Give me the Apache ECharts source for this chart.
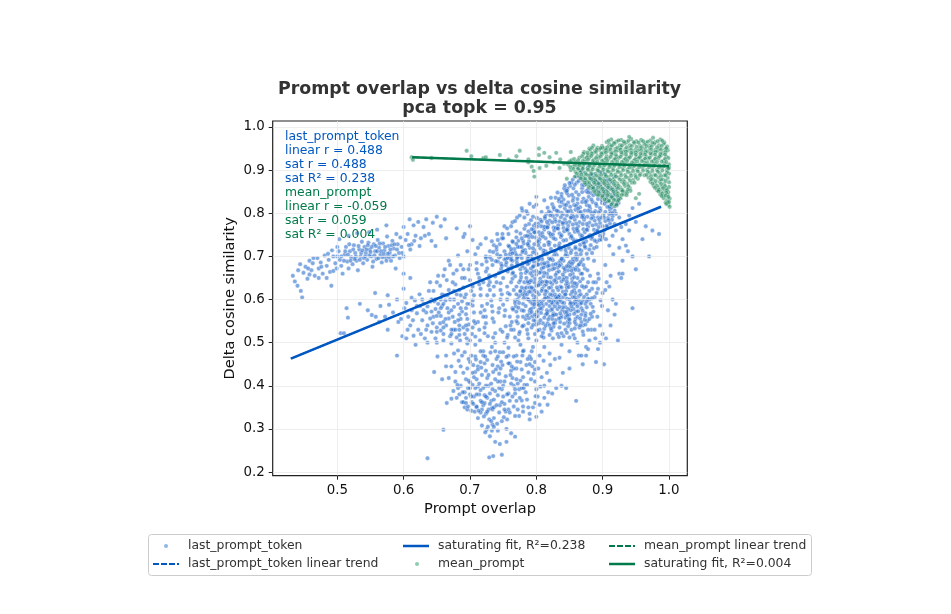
<!DOCTYPE html>
<html>
<head>
<meta charset="utf-8">
<style>html,body{margin:0;padding:0;background:#fff}#chart{width:951px;height:614px}</style>
<script src="https://cdn.jsdelivr.net/npm/echarts@6/dist/echarts.min.js"></script>
</head>
<body>
<div id="chart"></div>
<script>
// Tick values for both axes
const xTicks = [0.5, 0.6, 0.7, 0.8, 0.9, 1.0];
const yTicks = [0.2, 0.3, 0.4, 0.5, 0.6, 0.7, 0.8, 0.9, 1.0];

// Point clouds as flat x,y pairs in thousandths
const lastLeftBand = [
433,655,436,642,440,632,441,668,445,620,447,605,444,682,449,662,452,676,455,648,458,690,461,668,463,684,466,655,470,696,472,672,475,686,478,660,481,702,484,678,
487,692,489,664,491,632,494,700,497,684,499,672,502,712,504,692,506,678,508,660,511,704,513,722,515,688,517,672,519,712,521,698,523,682,525,726,527,708,529,690,
531,668,533,716,535,700,537,734,539,684,541,722,543,708,545,692,547,732,549,716,551,700,553,676,555,728,557,712,559,694,561,738,563,720,565,704,567,686,569,730,
571,714,573,698,575,746,577,724,579,708,581,690,583,736,585,718,587,702,589,752,591,728,593,708,595,744,597,722,600,768,603,738,606,752,609,786,612,728,615,772,
618,748,622,780,626,742,630,768,634,786,638,752,644,778,650,792,656,770,662,786,664,742,600,700,610,716,648,724,503,740,517,748,530,754,548,756,560,762,574,772,
506,700,512,712,516,704,520,690,524,716,528,700,532,724,536,708,540,696,544,716,548,702,552,722,556,702,560,712,564,730,568,698,572,722,576,706,580,716,584,700,
534,692,542,700,550,710,558,724,566,712,574,690,582,726,590,716,510,690,518,728,526,694,538,714,546,726,554,688,562,696,570,706,578,698,586,728,594,696,598,708,
456,672,464,696,476,676,486,706,494,666,500,700,458,658,472,650,484,650,492,714,500,722,608,726,616,736,624,724,632,748,642,736,588,672,600,660,610,650
];
const lastMidLeft = [
514,580,516,558,505,522,510,522,534,590,546,575,552,564,558,560,563,548,565,585,572,560,576,530,578,588,584,570,590,600,592,548,596,555,598,515,601,580,604,592,
607,560,610,540,612,575,615,516,617,598,622,530,625,585,628,552,632,510,634,570,636,540,640,595,642,525,645,560,648,578,650,500,655,545,658,585,660,520,664,470,
668,556,672,498,675,530,680,512,684,540,688,572,651,468,646,432,642,600,604,510,618,495,624,612,576,610,600,625,557,615,638,620,662,610,590,470,
606,530,614,552,620,568,630,590,634,530,644,545,650,562,656,528,664,540,670,515,678,530,686,555,692,520,700,505,626,520,636,500,648,510,660,505,
612,604,628,600,636,584,652,590,663,598,676,583,688,596,694,566,704,586,668,570,682,552,698,542,712,548,724,560,642,572,656,562,
672,530,684,518,696,498,708,514,722,522,735,512,746,530,757,518,768,512,660,548,650,535,640,556,630,575,620,585
];
const lastCenter = [
640,640,645,620,648,600,652,655,655,632,658,612,660,590,662,670,665,645,668,622,670,600,672,575,675,660,678,635,680,612,682,590,684,565,686,680,688,650,690,628,
692,605,694,580,696,555,698,670,700,645,702,620,704,598,706,570,708,545,710,685,712,660,714,635,716,610,718,585,720,560,722,535,724,700,726,672,728,648,730,622,
732,598,734,572,736,548,738,522,740,715,742,688,744,662,746,638,748,612,750,588,752,562,754,538,756,512,758,725,760,698,762,672,764,648,766,622,768,598,770,572,
772,545,774,520,776,495,653,570,663,555,677,548,690,535,703,520,715,505,727,515,738,500,749,525,761,540,773,505,650,525,660,535,672,520,685,505,695,510,708,495,
720,480,733,490,745,478,758,488,770,470,781,482,790,468,798,455,668,690,682,702,696,712,708,705,716,728,724,742,733,735,741,752,748,742,752,770,700,590,692,650,
646,596,656,580,666,610,674,640,684,622,694,612,704,630,714,650,724,665,734,680,744,698,754,680,764,660,774,640,776,618,772,600,764,580,756,600,746,600,736,610,
726,590,716,570,706,550,696,530,686,580,676,600,666,580,656,600,650,640,660,655,670,680,680,668,690,670,700,680,710,670,720,640,730,640,740,640,750,650,756,630,
744,580,734,556,724,545,714,530,704,535,694,540,684,530,674,560,726,610,736,630,746,622,716,625,706,610,696,590,686,610,676,620,760,560,770,550,766,530,752,500,
738,654,747,671,729,656,718,681,733,692,752,693,762,711,741,705,728,633,757,615,743,570,733,585,722,575,769,584,753,575,762,530
];
const lastBottom = [
686,445,690,430,694,415,697,395,700,380,703,362,705,448,708,432,710,415,712,398,714,380,716,365,718,345,720,470,722,452,724,435,726,418,728,400,730,382,732,365,
734,345,736,325,738,480,740,462,742,445,744,428,746,410,748,392,750,375,752,358,754,340,756,322,758,470,760,452,762,435,764,418,766,400,768,382,770,365,772,345,
774,330,776,455,778,438,780,420,782,402,784,385,786,368,788,350,790,335,792,462,794,445,796,428,798,410,800,392,802,375,805,356,808,340,812,400,816,430,818,385,
820,412,678,410,682,395,684,380,688,362,692,350,696,345,702,342,707,340,716,338,724,335,729,322,734,310,725,298,730,283,736,305,742,296,748,318,755,300,762,290,
768,282,755,270,745,265,738,270,748,240,729,234,735,237,636,232,723,292,718,308,727,305,733,296,712,325,720,355,706,375,698,412,704,402,722,378,738,388,752,410,
766,352,778,366,770,440,785,448,798,360,830,395,838,400,840,430,860,365,850,440,845,395,870,450,875,470,660,298,665,360,672,370,680,372,690,362,710,350,733,348,
745,355,758,345,768,330,780,340,790,322,800,328,795,350,735,432,749,448,724,400,728,425,742,410,761,425,776,412,712,445,698,462,688,470,676,475,672,445,682,482,
694,372,700,395,706,420,712,438,716,455,720,395,726,372,730,358,734,392,738,415,742,378,746,440,750,400,754,422,758,382,762,405,766,440,770,415,774,392,718,425,
710,380,704,430,696,440,700,455,708,468,716,480,726,460,734,448,742,468,750,478,758,452,766,468,702,470,714,405,722,360,728,345,736,350,744,338,752,345,760,365,
740,355,732,405,724,375,716,390,708,395,700,408,692,385,686,400,694,360,702,375,748,362,756,380,764,375,772,405,778,395,710,352,718,362,726,340,736,368,744,395,
709,461,717,442,723,468,731,477,739,438,747,456,755,467,763,445,771,456,779,470,787,462,793,480,803,440,811,458,821,448,828,462,
788,431,781,395,775,372,768,392,760,338,751,327,741,312,732,318,721,329,713,342,705,358,697,352,689,385,681,402,675,388,668,418,
780,352,786,402,792,415,799,376,806,398,812,372,817,356,824,382,808,420,798,438,790,450,664,445,658,415,678,432,683,458,692,478
];
const lastCore = [
775,525,781,540,787,520,793,535,799,550,805,530,811,512,817,545,823,528,829,552,835,535,841,515,847,548,853,530,859,555,865,535,871,518,877,550,883,530,889,510,
772,560,778,575,784,555,790,568,796,582,802,562,808,578,814,565,820,585,826,568,832,578,838,562,844,582,850,565,856,578,862,560,868,580,874,568,880,555,886,572,892,560,
768,592,774,608,780,590,786,602,792,618,798,596,804,612,810,598,816,618,822,600,828,612,834,596,840,618,846,602,852,612,858,595,864,608,870,598,876,612,882,590,888,606,
770,630,776,645,782,625,788,638,794,655,800,632,806,648,812,632,818,652,824,636,830,648,836,630,842,652,848,636,854,648,860,630,866,642,872,628,878,640,884,625,890,640,
765,662,771,678,777,660,783,672,789,685,795,665,801,680,807,664,813,680,819,668,825,680,831,662,837,682,843,665,849,678,855,660,861,675,867,660,873,672,
779,612,785,628,791,595,797,640,803,575,809,625,815,590,821,640,827,565,833,622,839,575,845,635,851,590,857,622,795,610,805,640,815,605,825,590,835,650,845,620,
790,575,800,560,810,545,820,560,830,595,840,605,850,545,860,590,870,540,880,600,785,650,795,625,805,595,815,635,825,620,835,610,845,565,855,605,865,620,875,630,
800,505,812,490,825,510,838,495,850,512,862,500,875,490,788,510,795,490,780,480,805,470,820,475,835,465,850,480,864,470,878,485,890,455,902,450,893,485,900,520,
896,540,905,510,912,540,918,565,923,505,945,580,920,590,908,575,900,615,910,630,915,600,893,625,899,585,906,640,912,655,925,660,930,690,893,660,904,680,916,705,
880,505,868,470,888,530,896,500,
788,600,794,590,802,590,810,585,818,605,826,598,834,606,842,592,850,600,858,606,866,590,874,590,782,640,790,628,798,648,806,636,814,642,822,628,830,640,838,642,846,628,854,640,862,650,870,648,
776,670,784,662,792,672,800,658,808,672,816,660,824,670,832,674,840,658,848,668,856,672,864,668,780,560,788,545,796,552,804,545,812,558,820,540,828,545,836,568,844,558,852,575,860,572,868,565,876,582,
784,585,792,578,800,600,808,620,816,575,824,610,832,590,840,582,848,578,856,590,864,598,872,606,880,620,886,640,776,620,782,610,790,640,798,620,806,580,814,620,822,575,830,565,838,628,846,650,
786,530,798,520,808,515,820,518,832,520,844,530,856,518,868,548,878,530,884,560,800,542,812,532,824,555,836,548,848,538,860,542,
793,571,799,606,803,633,811,654,817,571,823,593,827,644,833,607,837,558,843,611,849,629,853,584,859,615,863,573,869,631,873,553,
781,603,787,642,791,661,797,589,801,617,807,569,813,603,819,627,825,563,829,606,835,583,841,646,847,563,851,657,857,567,861,636,
789,557,795,541,802,528,814,539,826,537,838,522,849,556,858,533,866,556,874,542,882,567,779,538,773,581,770,612,777,652,783,617,
809,641,821,612,831,628,843,571,855,631,867,612,878,602,885,583,891,615,897,598,904,622,894,648,881,655,869,660,857,652,
805,662,817,677,829,657,841,674,853,667,865,682,877,668,887,690,762,640,757,665,768,654,760,612,765,577,763,548,
786,612,793,628,801,571,808,591,816,641,824,578,831,603,839,593,846,571,854,618,862,584,870,574,792,644,800,666,812,662,822,651,834,665,846,642,858,638,
794,561,804,587,813,612,819,597,828,584,836,599,844,612,852,592,860,600,868,592,876,596,884,603,789,618,781,574,778,628,774,592,786,666,796,678,808,683,
818,554,826,545,834,556,842,544,850,553,858,548,866,540,874,562,810,523,822,533,834,513,846,523,858,510,870,526,798,565,806,552,816,567,796,600,786,563
];
const lastDiagonal = [
866,883,873,877,881,889,887,874,895,882,903,891,909,876,917,885,899,870,877,869,884,862,861,871,869,858,892,866,906,864,913,871,921,861,856,858,
851,863,844,852,860,849,875,851,882,847,889,855,897,846,905,852,912,843,919,853,838,845,849,841,856,836,864,843,871,834,879,838,893,833,901,839,908,829,916,836,923,830,
829,836,834,828,841,832,848,825,855,829,862,823,869,826,876,819,885,826,891,817,899,824,907,815,914,822,921,818,824,821,817,813,827,809,836,816,843,811,851,815,859,808,866,814,873,806,881,811,889,805,896,812,904,803,911,808,918,806,
808,803,815,798,822,801,831,796,838,801,846,795,854,799,861,793,868,798,877,792,884,797,893,790,901,796,908,789,915,793,801,789,795,792,806,785,813,788,820,783,828,787,835,781,843,786,850,780,858,785,865,779,872,785,880,778,888,783,896,777,904,782,911,776,
789,775,796,771,803,776,811,769,818,774,826,767,833,772,841,766,848,771,856,764,863,770,871,763,878,769,887,762,894,768,902,760,782,764,788,758,796,762,804,756,812,762,819,755,827,760,835,753,842,758,850,752,858,757,866,750,873,756,881,749,889,755,896,748,
776,753,770,744,783,747,791,751,799,744,806,749,814,742,822,747,829,740,837,745,845,738,852,744,860,737,868,743,875,735,883,741,891,734,765,733,773,736,781,730,789,735,797,728,804,733,812,726,820,732,828,725,835,730,843,723,851,729,859,722,866,727,874,720,882,726,887,719,
759,723,767,717,775,722,783,715,790,720,798,713,806,719,814,712,822,717,829,710,837,716,845,708,853,714,860,707,868,713,876,706,752,712,760,705,768,709,776,702,784,708,792,701,800,706,808,699,816,705,823,697,831,703,839,696,847,701,855,694,862,700,870,693,
746,701,754,694,762,698,770,691,778,696,786,689,794,695,801,687,809,693,817,686,825,691,833,684,841,690,849,683,856,688,864,681,739,689,747,683,755,686,763,679,771,684,779,677,787,682,795,676,803,681,811,674,819,679,827,672,835,678,843,671,851,676,859,669,
779,806,787,799,771,790,764,779,756,765,749,752,742,738,736,726,730,712,724,697,886,878,894,870,902,856,918,843,924,824,920,799,914,785,907,768,901,752,895,738,891,722,884,708,878,695,871,680,
869,866,878,855,886,842,858,866,847,857,838,838,842,820,833,804,825,794,816,780,807,770,798,756,789,745,780,736,772,722,764,707,757,696,748,678,
857,819,864,803,872,791,880,817,887,801,895,785,903,822,910,798,846,805,853,790,840,775,847,764,855,741,863,757,871,733,879,746,829,766,821,752,813,768,805,740,797,756,788,726,780,714,772,699,764,690,758,672
];
const lastDiagonalFill = [
853,871,864,875,872,865,882,880,890,873,898,862,906,877,914,858,878,848,886,857,894,851,902,845,910,857,834,833,846,847,854,843,862,833,869,849,876,829,883,832,891,844,899,830,906,836,913,813,
826,814,838,826,845,819,852,806,860,817,867,803,874,826,882,803,890,822,897,806,905,827,912,800,819,804,831,806,840,797,848,804,856,792,863,811,870,796,878,806,886,791,894,802,902,790,909,784,
813,792,821,795,829,781,837,791,845,778,852,790,860,776,869,791,876,775,883,788,890,774,898,790,906,771,792,784,799,776,808,781,816,768,824,779,833,764,840,778,847,760,855,774,862,760,870,775,877,761,885,772,892,758,900,770,
784,772,793,763,801,769,809,754,817,767,825,751,832,765,838,749,846,762,853,747,861,764,869,748,876,762,884,745,892,760,898,739,
778,742,786,748,794,745,802,735,810,746,818,733,826,742,834,724,841,737,849,720,857,735,865,716,872,730,880,716,888,737,770,729,778,722,787,729,795,719,803,726,811,714,819,727,827,712,835,721,844,715,852,708,859,719,867,705,873,723,
762,717,770,703,779,710,787,696,795,709,803,692,811,708,819,696,827,703,836,690,844,702,851,687,859,698,867,687,754,704,762,692,771,697,780,685,788,700,796,688,804,694,812,684,821,693,829,682,838,694,846,677,854,683,861,692
];
const lastEdges = [
790,822,796,815,785,805,775,795,778,812,768,782,762,770,758,752,750,742,745,728,740,722,735,710,730,698,725,688,712,720,704,738,692,752,700,770,680,765,690,745,
800,838,812,830,822,836,832,848,842,858,850,870,860,885,770,758,764,735,800,820,782,790,945,812,955,822,940,795,950,780,965,770,975,760,985,752,935,775,925,790,
930,740,935,725,925,720,938,712,945,700,950,670,930,660,928,650,905,740,910,725,920,760,915,748,918,775,928,768,900,745,940,760,960,740,970,700,
910,815,915,800,920,820,925,835,900,895,895,895,885,890,870,895,878,908,865,900,855,878,843,865,846,852
];

const meanSparse = [
612,930,614,924,642,928,695,945,702,932,720,928,724,930,745,935,758,925,770,932,775,945,788,925,788,918,793,908,796,898,797,885,804,950,804,935,805,905,815,910,
826,918,830,940,835,905,842,915,852,942,862,912,870,905,866,895,858,885,846,880,850,920,872,942,878,936,836,925,820,930,880,950,812,940
];
const meanDense = [
906,965,913,971,921,966,928,970,936,964,943,972,951,967,958,970,965,963,972,969,979,965,987,971,993,964,940,977,976,975,910,960,918,961,926,958,933,962,941,958,948,962,956,957,963,960,971,957,978,961,985,958,992,961,
886,957,892,952,899,956,904,950,912,954,919,949,927,953,934,948,941,952,949,947,956,951,964,949,971,952,979,947,986,951,994,948,997,955,881,947,888,944,895,947,902,942,909,945,916,941,924,946,931,942,938,945,946,941,953,945,961,940,968,944,976,941,983,945,991,940,998,946,
871,938,878,934,885,938,892,933,899,937,906,932,914,936,921,931,929,936,936,931,943,935,951,930,958,934,966,931,973,935,981,930,988,935,996,931,865,929,873,926,880,929,887,924,894,928,902,923,909,927,917,924,924,928,932,923,939,927,947,922,954,927,962,923,969,926,977,922,984,927,992,922,999,928,
853,923,859,919,866,916,874,920,881,914,888,918,896,913,903,917,911,912,918,916,926,913,933,917,941,912,948,916,956,913,963,917,971,912,978,916,986,911,993,916,1000,913,
848,913,855,908,862,906,870,909,877,904,885,907,892,902,900,906,907,901,915,905,922,900,930,905,937,901,945,905,952,901,960,906,967,901,975,905,982,901,990,906,997,901,1000,906,
852,900,859,896,867,898,874,894,882,897,889,892,897,896,904,890,912,895,919,890,927,894,934,889,942,893,949,889,957,892,963,888,971,893,978,889,986,893,993,888,1000,892,
864,887,871,884,879,887,886,882,894,886,901,880,909,884,916,879,924,883,931,878,939,882,946,877,953,880,969,883,976,879,984,883,991,878,998,882,
870,877,877,874,884,877,892,872,899,876,907,870,914,874,922,869,929,873,937,868,944,871,972,873,979,869,986,873,993,868,1000,872,
875,867,882,864,889,867,897,862,904,866,912,860,919,864,927,859,934,863,941,858,977,863,984,859,990,862,996,858,1000,861,
884,857,891,853,898,856,906,851,913,855,921,850,928,854,935,849,942,852,982,854,988,850,994,853,999,849,
889,847,896,843,903,846,910,841,918,845,925,840,932,844,987,844,992,840,998,843,
899,837,906,833,913,836,920,831,927,835,992,835,997,830,1001,834,
908,828,915,824,922,827,995,825,999,820,1001,815,998,826,937,848,955,845,950,835,918,816
];
const meanDenseFill = [
909,968,917,963,924,969,932,966,939,968,947,965,954,964,961,967,968,966,975,963,983,967,990,968,900,952,907,953,914,957,922,952,929,957,936,953,944,956,951,954,959,953,966,956,974,955,982,953,989,956,996,951,
884,952,891,948,897,951,905,947,912,948,920,944,927,948,935,943,943,947,950,941,958,946,965,942,973,948,980,942,988,947,995,942,877,941,883,939,890,942,898,939,905,941,913,939,920,935,928,941,935,937,943,940,950,936,957,938,964,936,972,939,979,936,987,938,994,936,
869,932,876,929,883,933,890,928,897,932,905,927,912,931,919,926,927,931,934,926,941,930,949,925,956,930,964,927,971,929,979,926,986,932,994,926,857,926,863,923,870,921,878,924,885,921,892,920,899,922,907,921,914,919,922,920,929,919,937,921,944,918,952,920,959,921,967,918,974,920,982,919,989,920,996,919,
851,907,858,912,865,911,872,914,880,909,888,912,895,908,903,911,910,907,918,910,925,907,933,910,940,906,948,910,955,907,963,911,970,907,978,910,985,906,993,910,999,904,
856,903,863,903,870,903,878,901,885,902,893,899,901,901,908,897,916,900,923,896,931,900,938,896,946,898,953,897,961,899,968,896,975,898,983,897,990,899,997,895,
861,892,868,890,875,890,883,891,890,887,898,889,905,886,913,889,920,885,928,888,935,884,943,887,950,884,956,888,966,889,973,886,980,888,988,886,995,888,
867,881,874,880,881,881,889,877,896,880,903,875,911,878,918,874,926,878,933,873,941,876,948,871,973,879,980,875,988,878,995,875,
873,871,880,870,887,871,894,868,902,870,909,865,917,868,924,864,932,868,939,863,975,869,982,864,988,868,994,863,
879,861,886,859,893,860,900,857,908,860,915,855,923,858,930,854,938,855,979,859,985,855,991,858,997,854,
887,851,894,848,901,851,908,847,916,850,923,846,930,851,936,842,984,851,990,846,996,848,
893,842,900,840,907,842,914,838,922,840,929,843,989,840,995,841,999,838,
903,832,910,829,917,831,924,831,996,822,1000,826,913,820,921,820
];
const lastFit = [[0.43, 0.463], [0.988, 0.815]];
const meanFit = [[0.613, 0.93], [1.0, 0.909]];

const pairs = (...lists) => {
  const flat = lists.flat(), out = [];
  for (let i = 0; i + 1 < flat.length; i += 2) out.push([flat[i] / 1000, flat[i + 1] / 1000]);
  return out;
};

const BLUE = '#0057c2', GREEN = '#007a4a';
const noteLines = [
  ['last_prompt_token', BLUE], ['linear r = 0.488', BLUE], ['sat r = 0.488', BLUE], ['sat R² = 0.238', BLUE],
  ['mean_prompt', GREEN], ['linear r = -0.059', GREEN], ['sat r = 0.059', GREEN], ['sat R² = 0.004', GREEN]
];

const cloud = (name, color, data, z) => ({
  type: 'scatter', name, data, symbolSize: 4.4, z, large: false, progressive: 0, silent: true,
  itemStyle: { color, opacity: 0.55, borderColor: '#fff', borderWidth: 0.6 }
});
const fit = (name, color, data, width, dash, z) => ({
  type: 'line', name, data, symbol: 'none', z, silent: true,
  lineStyle: { color, width, type: dash ? 'dashed' : 'solid' }, itemStyle: { color }
});

const names = ['last_prompt_token', 'last_prompt_token linear trend', 'saturating fit, R²=0.238',
  'mean_prompt', 'mean_prompt linear trend', 'saturating fit, R²=0.004'];
const dashIcon = 'path://M0 0h6v2H0z M8 0h6v2H8z M16 0h6v2H16z M24 0h2v2h-2z';
const iconColor = { last: '#8fb4e6', mean: '#8fcbb0' };
// One legend per entry so the three columns can sit at their own offsets
const entry = (name, left, top, kind, pad, tint) => ({
  show: true, left, top, selectedMode: false, padding: 0, itemGap: 0,
  data: [{ name, icon: kind === 'dot' ? 'circle' : kind === 'dash' ? dashIcon : 'rect',
    itemStyle: tint ? { color: tint, opacity: 1, borderWidth: 0 } : undefined }],
  itemWidth: kind === 'dot' ? 4 : 26,
  itemHeight: kind === 'dot' ? 4 : 2.5,
  textStyle: { color: '#333', fontFamily: 'DejaVu Sans', fontSize: 12.4, padding: [0, 0, 0, pad] }
});

const chart = echarts.init(document.getElementById('chart'), null, { renderer: 'canvas' });
chart.setOption({
  animation: false,
  backgroundColor: '#fff',
  title: {
    text: 'Prompt overlap vs delta cosine similarity\npca topk = 0.95',
    left: 474.5, top: 75, textAlign: 'center',
    textStyle: { fontFamily: 'DejaVu Sans', fontWeight: 'bold', fontSize: 17.4, lineHeight: 19, color: '#333' }
  },
  grid: { left: 272.7, top: 121, width: 414.6, height: 354.7, show: true, borderColor: '#222', borderWidth: 1.2, backgroundColor: '#fff' },
  xAxis: {
    type: 'value', min: 0.4026, max: 1.0276, z: 3,
    name: 'Prompt overlap', nameLocation: 'middle', nameGap: 26,
    nameTextStyle: { fontFamily: 'DejaVu Sans', fontSize: 14.6, color: '#111' },
    axisLine: { show: false },
    axisTick: { show: true, length: 4, customValues: xTicks, lineStyle: { color: '#222', width: 1 } },
    axisLabel: { customValues: xTicks, formatter: v => v.toFixed(1), margin: 8, fontFamily: 'DejaVu Sans', fontSize: 13.4, color: '#111' },
    splitLine: { show: true, lineStyle: { color: 'rgba(232,232,232,0.75)', width: 1 } }
  },
  yAxis: {
    type: 'value', min: 0.1915, max: 1.0139, z: 3,
    name: 'Delta cosine similarity', nameLocation: 'middle', nameGap: 35,
    nameTextStyle: { fontFamily: 'DejaVu Sans', fontSize: 14.6, color: '#111' },
    axisLine: { show: false },
    axisTick: { show: true, length: 4, customValues: yTicks, lineStyle: { color: '#222', width: 1 } },
    axisLabel: { customValues: yTicks, formatter: v => v.toFixed(1), margin: 8, fontFamily: 'DejaVu Sans', fontSize: 13.4, color: '#111' },
    splitLine: { show: true, lineStyle: { color: 'rgba(232,232,232,0.75)', width: 1 } }
  },
  legend: [
    entry(names[0], 164, 540, 'dot', 15, iconColor.last),
    entry(names[1], 153, 558, 'dash', 4),
    entry(names[2], 403, 540, 'solid', 4),
    entry(names[3], 415, 558, 'dot', 14, iconColor.mean),
    entry(names[4], 609, 540, 'dash', 4),
    entry(names[5], 609, 558, 'solid', 4)
  ],
  graphic: [
    { type: 'rect', shape: { x: 148.5, y: 534.5, width: 663, height: 41, r: 3 }, style: { fill: '#fff', stroke: '#ccc', lineWidth: 1 }, z: 1 },
    ...noteLines.map(([text, fill], i) => ({
      type: 'text', x: 285, y: 130.5 + i * 14.1, z: 20,
      style: { text, fill, font: '12.4px "DejaVu Sans"' }
    }))
  ],
  series: [
    cloud(names[0], '#1a62c8', pairs(lastLeftBand, lastMidLeft, lastCenter, lastBottom, lastCore, lastDiagonal, lastDiagonalFill, lastEdges), 2),
    fit(names[1], BLUE, lastFit, 1.6, true, 4),
    fit(names[2], BLUE, lastFit, 2.6, false, 4),
    cloud(names[3], '#1f8a5c', pairs(meanSparse, meanDense, meanDenseFill), 5),
    fit(names[4], GREEN, meanFit, 1.6, true, 6),
    fit(names[5], GREEN, meanFit, 2.6, false, 6)
  ]
});
</script>
</body>
</html>
